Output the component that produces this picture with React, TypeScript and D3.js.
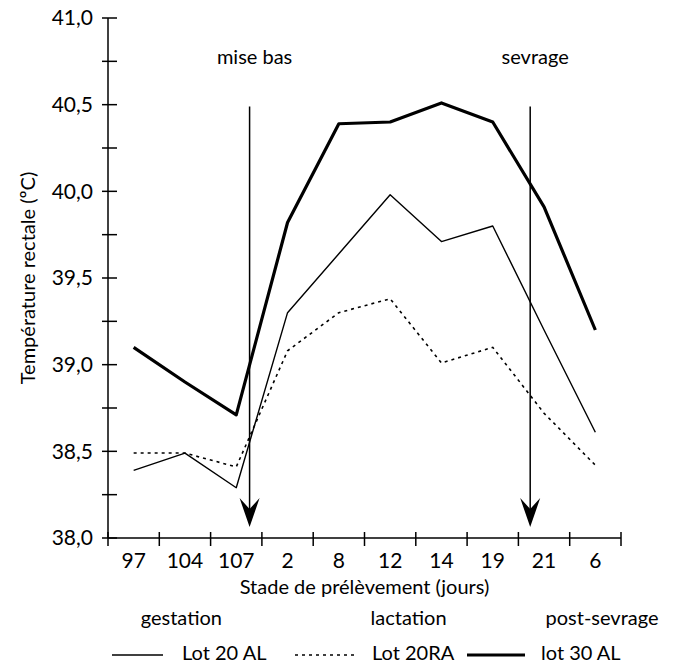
import React, { useEffect } from "react";
import * as d3 from "d3";

// stade de prélèvement (jours)
const categories = ["97", "104", "107", "2", "8", "12", "14", "19", "21", "6"];

// température rectale (°C)
const lot20AL = [38.39, 38.49, 38.29, 39.3, 39.64, 39.98, 39.71, 39.8, 39.2, 38.61];
const lot20RA = [38.49, 38.49, 38.41, 39.08, 39.3, 39.38, 39.01, 39.1, 38.72, 38.42];
const lot30AL = [39.1, 38.9, 38.71, 39.82, 40.39, 40.4, 40.51, 40.4, 39.91, 39.2];

const yTicks = d3.range(38, 41.001, 0.25);
const yLabels = [38, 38.5, 39, 39.5, 40, 40.5, 41];

// events, position in category units along the axis
const events = [
  { label: "mise bas", at: 2.76 },
  { label: "sevrage", at: 8.23 },
];
const phases = [
  { label: "gestation", at: 1.43 },
  { label: "lactation", at: 5.86 },
  { label: "post-sevrage", at: 9.63 },
];

const FONT = "Lato, 'Open Sans', sans-serif";

const App = () => {
  useEffect(() => {
    document.body.style.margin = "0";
  }, []);

  const width = 675;
  const height = 665;
  const left = 108;
  const right = 621;
  const top = 18;
  const bottom = 538;

  const x = d3.scaleBand().domain(categories).range([left, right]).padding(0);
  const pos = d3.scaleLinear().domain([0, categories.length]).range([left, right]);
  const y = d3.scaleLinear().domain([38, 41]).range([bottom, top]);
  const cx = (c) => x(c) + x.bandwidth() / 2;

  const line = d3
    .line()
    .x((d, i) => cx(categories[i]))
    .y((d) => y(d));

  const fmt = (v) => d3.format(".1f")(v).replace(".", ",");

  const arrowTop = y(40.49);
  const arrowTip = y(38.063);

  return (
    <svg width={width} height={height} style={{ display: "block", background: "#fff" }} fontFamily={FONT}>
      {/* y axis */}
      <line x1={left} x2={left} y1={top} y2={bottom} stroke="#000" strokeWidth={1.5} />
      {yTicks.map((t) => (
        <line key={t} x1={left - 6} x2={left + 9} y1={y(t)} y2={y(t)} stroke="#000" strokeWidth={1.5} />
      ))}
      {yLabels.map((t) => (
        <text key={t} x={93} y={y(t)} dy="0.35em" textAnchor="end" fontSize={21}>
          {fmt(t)}
        </text>
      ))}
      <text
        transform={`translate(28, ${(top + bottom) / 2}) rotate(-90)`}
        textAnchor="middle"
        dy="0.35em"
        fontSize={20}
      >
        Température rectale (ºC)
      </text>

      {/* x axis */}
      <line x1={left} x2={right} y1={bottom} y2={bottom} stroke="#000" strokeWidth={1.5} />
      {d3.range(categories.length + 1).map((i) => (
        <line key={i} x1={pos(i)} x2={pos(i)} y1={bottom - 6} y2={bottom + 8} stroke="#000" strokeWidth={1.5} />
      ))}
      {categories.map((c) => (
        <text key={c} x={cx(c)} y={568} textAnchor="middle" fontSize={21}>
          {c}
        </text>
      ))}
      <text x={(left + right) / 2} y={594} textAnchor="middle" fontSize={20}>
        Stade de prélèvement (jours)
      </text>
      {phases.map((p) => (
        <text key={p.label} x={pos(p.at)} y={625} textAnchor="middle" fontSize={20}>
          {p.label}
        </text>
      ))}

      {/* series */}
      <path d={line(lot20AL)} fill="none" stroke="#000" strokeWidth={1.4} strokeLinejoin="round" />
      <path d={line(lot20RA)} fill="none" stroke="#000" strokeWidth={1.6} strokeDasharray="3,4" />
      <path d={line(lot30AL)} fill="none" stroke="#000" strokeWidth={3.2} strokeLinejoin="round" />

      {/* event arrows */}
      {events.map((e) => {
        const ax = pos(e.at);
        return (
          <g key={e.label}>
            <text x={ax + 5} y={64} textAnchor="middle" fontSize={20}>
              {e.label}
            </text>
            <line x1={ax} x2={ax} y1={arrowTop} y2={arrowTip - 12} stroke="#000" strokeWidth={1.5} />
            <path
              d={`M${ax},${arrowTip} L${ax - 10},${arrowTip - 29} L${ax},${arrowTip - 18} L${ax + 10},${arrowTip - 29} Z`}
              fill="#000"
            />
          </g>
        );
      })}

      {/* legend */}
      <g fontSize={20}>
        <line x1={112} x2={163} y1={655} y2={655} stroke="#000" strokeWidth={1.4} />
        <text x={182} y={660}>Lot 20 AL</text>
        <line x1={295} x2={357} y1={655} y2={655} stroke="#000" strokeWidth={1.6} strokeDasharray="3,4" />
        <text x={372} y={660}>Lot 20RA</text>
        <line x1={467} x2={525} y1={655} y2={655} stroke="#000" strokeWidth={3.2} />
        <text x={541} y={660}>lot 30 AL</text>
      </g>
    </svg>
  );
};

export default App;
